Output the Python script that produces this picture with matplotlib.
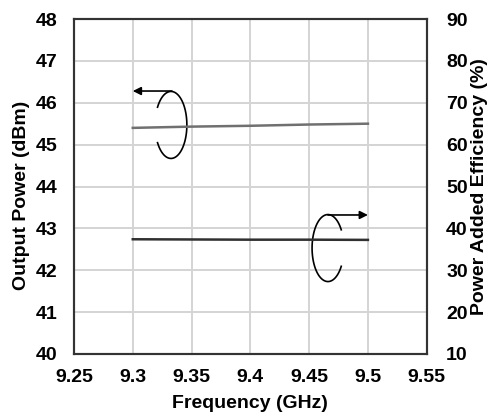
import matplotlib.pyplot as plt
import matplotlib
import numpy as np

matplotlib.rcParams['font.family'] = ['Liberation Sans', 'DejaVu Sans']
matplotlib.rcParams['font.weight'] = 'bold'

# Data
freq = [9.3, 9.35, 9.4, 9.45, 9.5]
pout = [45.40, 45.43, 45.45, 45.48, 45.50]
pae = [37.4, 37.35, 37.3, 37.3, 37.25]

fig = plt.figure(figsize=(4.89, 4.17), dpi=100)
ax = fig.add_axes([74 / 489, 63 / 417, 352.7 / 489, 335 / 417])
ax2 = ax.twinx()

ax.plot(freq, pout, color='#707070', lw=1.8, zorder=3)
ax2.plot(freq, pae, color='#303030', lw=1.8, zorder=3)

ax.set_xlim(9.25, 9.55)
ax.set_ylim(40, 48)
ax2.set_ylim(10, 90)
ax.set_xticks([9.25, 9.3, 9.35, 9.4, 9.45, 9.5, 9.55])
ax.set_xticklabels(['9.25', '9.3', '9.35', '9.4', '9.45', '9.5', '9.55'])
ax.set_yticks(range(40, 49))
ax2.set_yticks(range(10, 91, 10))

ax.grid(True, color='#d4d4d4', lw=1.4)
ax.set_axisbelow(True)
for a in (ax, ax2):
    a.tick_params(length=0, labelsize=14, pad=12)
    for s in a.spines.values():
        s.set_color('#333333')
        s.set_linewidth(1.5)
ax.tick_params(axis='x', pad=11)
ax2.tick_params(axis='y', pad=14)

ax.set_xlabel('Frequency (GHz)', fontsize=14, fontweight='bold', labelpad=6)
ax.set_ylabel('Output Power (dBm)', fontsize=14, fontweight='bold')
ax2.set_ylabel('Power Added Efficiency (%)', fontsize=14, fontweight='bold')
ax.yaxis.set_label_coords(-0.125, 0.475)
ax2.yaxis.set_label_coords(1.125, 0.5)


# circular arrows indicating which axis each curve belongs to
def loop(cx, cy, t1, t2):
    t = np.radians(np.linspace(t1, t2, 100))
    ax.plot(cx + 0.0135 * np.cos(t), cy + 0.8 * np.sin(t), color='black', lw=1.2)


loop(9.3325, 45.47, -148, 148)
ax.annotate('', xy=(9.3, 46.28), xytext=(9.3333, 46.28),
            arrowprops=dict(arrowstyle='-|>', color='black', lw=1.2,
                            mutation_scale=12, shrinkA=0, shrinkB=0))
loop(9.466, 42.53, 33, 327)
ax.annotate('', xy=(9.5, 43.32), xytext=(9.466, 43.32),
            arrowprops=dict(arrowstyle='-|>', color='black', lw=1.2,
                            mutation_scale=12, shrinkA=0, shrinkB=0))

fig.savefig('out.png', dpi=100)
